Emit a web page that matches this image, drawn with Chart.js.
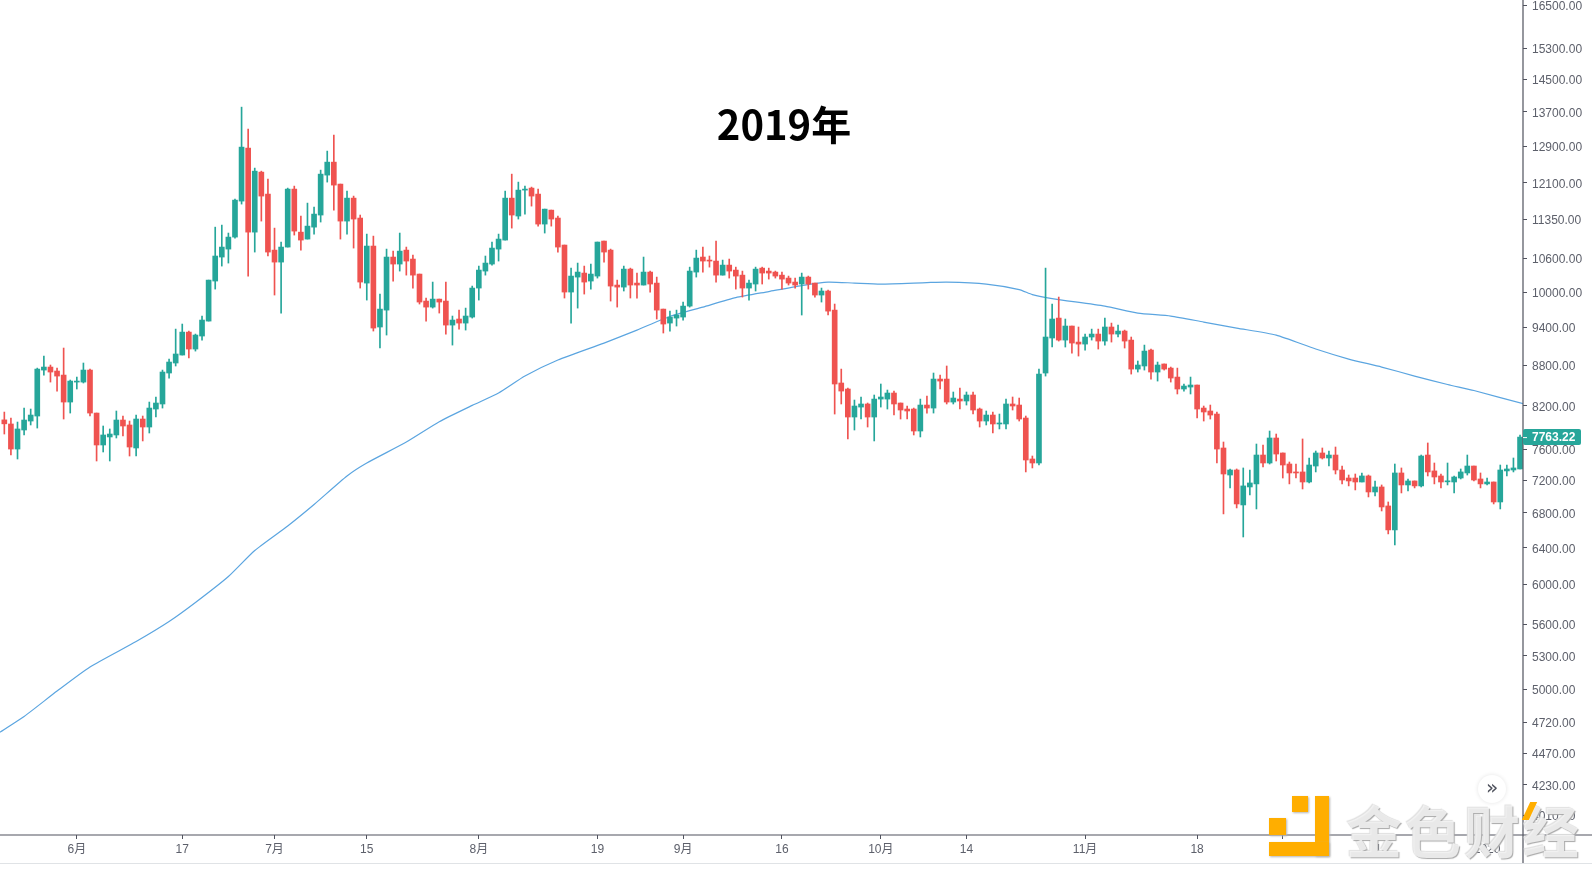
<!DOCTYPE html>
<html>
<head>
<meta charset="utf-8">
<title>2019年</title>
<script src="https://cdn.jsdelivr.net/npm/chart.js@4/dist/chart.umd.min.js"></script>
<style>
html, body { margin: 0; padding: 0; background: #fff; overflow: hidden; }
#wrap { position: relative; width: 1592px; height: 871px; }
#chart { position: absolute; left: 0; top: 0; }
#footline { position: absolute; left: 0; top: 863px; width: 1592px; height: 1px; background: #e0e3e6; }
#heading { position: absolute; left: 584px; top: 94px; width: 400px; text-align: center; font: bold 40px/58px "Noto Sans CJK SC", sans-serif; color: #000; }
#goto { position: absolute; left: 1478px; top: 775px; width: 28px; height: 28px; border-radius: 50%; background: #fff; box-shadow: 0 0 4px #e4e4e4; text-align: center; font: 20px/24px "DejaVu Sans", sans-serif; color: #50535e; }
.logo { position: absolute; background: #ffae00; box-shadow: 1px 1px 2px #b5b5b5; }
#brand { position: absolute; left: 1346px; top: 794px; font: bold 56px/70px "Noto Sans CJK SC", sans-serif; letter-spacing: 3px; color: rgba(244,244,244,0.85); text-shadow: 1px 1px 1px #a8a8a8, -1px -1px 1px #e0e0e0; white-space: nowrap; }
#slash { position: absolute; left: 1526px; top: 802px; width: 7px; height: 18px; background: #ffae00; transform: skewX(-25deg); }
</style>
</head>
<body>
<div id="wrap">
  <canvas id="chart" width="1592" height="863"></canvas>
  <div id="footline"></div>
  <div id="heading">2019年</div>
  <div id="goto">»</div>
  <div class="logo" style="left:1292px;top:796px;width:16px;height:16px"></div>
  <div class="logo" style="left:1269px;top:818px;width:17px;height:17px"></div>
  <div class="logo" style="left:1315px;top:796px;width:14px;height:60px"></div>
  <div class="logo" style="left:1269px;top:842px;width:60px;height:14px"></div>
  <div id="brand">金色财经</div>
  <div id="slash"></div>
</div>
<script>
// daily candles, 21 May 2019 to 6 Jan 2020
const opens = [
  8000,7943,7603,7860,7984,8054,8727,8773,8712,8651,
  8253,8546,8546,8727,8096,7657,7765,7792,7998,7929,
  7617,8012,7901,8153,8225,8682,8835,8959,9325,9053,
  9261,9506,10194,10630,10779,11007,11721,12857,11103,12329,
  11865,10760,10537,10817,11969,11103,10969,11200,11439,12265,
  12546,12074,11319,11782,11379,10158,10836,9408,9690,10630,
  10501,10760,10593,10319,9844,9741,9878,9844,9440,9540,
  9473,9573,10070,10373,10501,10779,10950,11782,11419,11948,
  11990,11865,11260,11538,11379,10855,10000,10265,10337,10194,
  10283,10931,10760,10123,10087,10409,10158,10123,10355,10158,
  9707,9473,9556,9573,9758,10355,10630,10574,10556,10300,
  10482,10391,10300,10070,10141,10427,10373,10355,10300,10247,
  10176,10141,10265,10158,9948,10018,9690,8532,8443,8040,
  8181,8225,8040,8296,8296,8384,8239,8153,8153,7846,
  8210,8167,8591,8591,8253,8296,8268,8355,8153,7984,
  8068,7943,7943,8225,8210,8026,7472,7420,8682,9229,
  9556,9196,9424,9164,9132,9245,9293,9180,9408,9293,
  9342,9196,8742,8789,9037,8697,8820,8757,8621,8443,
  8472,8502,8167,8125,8082,7617,7266,7330,6896,7116,
  7154,7524,7420,7751,7551,7407,7305,7305,7178,7381,
  7551,7485,7524,7330,7228,7228,7178,7254,7054,7116,
  6884,6602,7292,7141,7191,7129,7524,7318,7254,7180,
  7178,7228,7292,7381,7216,7154,7178,6932,7318,7330,
  7343
];
const highs = [
  8110,8026,7970,8167,8153,8757,8943,8804,8757,9069,
  8576,8621,8835,8742,8096,7915,7874,8125,8054,7984,
  8068,8054,8253,8326,8727,8896,9374,9457,9342,9293,
  9590,10211,11200,11240,11085,11761,13810,13290,12416,12350,
  12179,11181,10912,11990,12032,11419,11680,11599,12372,12790,
  13151,12074,11927,11824,11439,11065,11026,9965,10779,10741,
  11085,10817,10667,10319,9896,10176,9878,10176,9590,9690,
  9724,10105,10464,10649,10912,11065,11927,12286,12116,12032,
  12011,11969,11558,11538,11419,10855,10427,10519,10464,10501,
  10912,10931,10779,10211,10464,10427,10337,10630,10373,10265,
  9707,9673,9690,9827,10445,10760,10817,10649,10931,10574,
  10593,10445,10373,10211,10445,10445,10427,10373,10355,10283,
  10247,10337,10283,10158,10070,10035,9793,8742,8458,8282,
  8326,8239,8355,8517,8428,8413,8239,8196,8167,8296,
  8340,8682,8651,8789,8399,8458,8399,8399,8167,8125,
  8111,8082,8296,8326,8311,8054,7511,8742,10427,9793,
  9913,9540,9424,9408,9293,9374,9374,9556,9473,9440,
  9358,9245,8866,9116,9053,8850,8820,8773,8757,8517,
  8621,8502,8196,8210,8111,7697,7343,7343,7356,7330,
  7670,7657,7846,7805,7551,7433,7407,7738,7485,7577,
  7617,7577,7630,7381,7266,7279,7292,7266,7191,7141,
  6932,7407,7356,7216,7191,7524,7684,7420,7279,7420,
  7254,7343,7524,7381,7292,7228,7178,7394,7394,7485,
  7792
];
const lows = [
  7805,7524,7472,7792,7929,7887,8651,8546,8413,8012,
  8096,8443,8532,8054,7446,7564,7446,7751,7778,7511,
  7511,7711,7819,8040,8167,8606,8789,8959,8912,9021,
  9196,9506,10052,10464,10519,10988,11660,10283,10723,11319,
  10649,9948,9640,10817,11046,10760,10969,11065,11300,12116,
  11538,10969,11065,10798,10070,9861,9342,9069,9277,10193,
  10373,10300,10070,9793,9506,9724,9640,9293,9116,9374,
  9358,9556,9861,10300,10482,10556,10950,11181,11359,11458,
  11619,11220,11085,11220,10723,9896,9473,9724,9965,10052,
  10247,10537,9844,9741,10018,9896,9896,10123,10000,9540,
  9310,9342,9424,9523,9741,10265,10355,10445,10176,10300,
  10247,10052,9913,9861,10018,10141,10229,10247,10052,10123,
  10070,9607,10052,9913,9827,9607,8082,8225,7738,7860,
  8012,7901,7711,8181,8153,8068,8012,8012,7792,7765,
  8096,8096,8443,8225,8225,8153,8210,8082,7901,7929,
  7819,7874,7874,8139,7984,7305,7356,7394,8636,9085,
  9180,9085,8990,8943,9037,9196,9053,9116,9164,9245,
  9069,8666,8697,8727,8591,8561,8727,8546,8370,8413,
  8370,8026,7984,8012,7420,6789,7104,6860,6521,7017,
  6848,7369,7407,7446,7228,7154,7228,7091,7166,7305,
  7472,7381,7279,7154,7129,7079,7178,6993,7005,6824,
  6556,6431,7042,7067,7104,7116,7254,7154,7104,7141,
  7042,7216,7266,7191,7104,7141,6908,6848,7254,7305,
  7343
];
const closes = [
  7945,7603,7874,7998,8068,8742,8773,8697,8636,8253,
  8561,8561,8727,8096,7657,7792,7805,7998,7915,7630,
  8012,7901,8167,8239,8697,8850,8975,9325,9053,9277,
  9523,10211,10649,10817,11007,11741,12879,11103,12350,11824,
  10723,10537,10817,11969,11123,10950,11220,11458,12286,12546,
  12053,11319,11782,11359,10176,10836,9391,9707,10630,10501,
  10741,10556,10300,9827,9741,9878,9827,9440,9523,9473,
  9590,10070,10391,10519,10798,10969,11782,11439,11948,11969,
  11824,11260,11558,11359,10817,10000,10283,10355,10176,10319,
  10912,10723,10105,10087,10409,10123,10123,10355,10141,9690,
  9457,9573,9607,9758,10373,10611,10556,10556,10300,10482,
  10373,10283,10070,10158,10409,10337,10337,10283,10229,10158,
  10123,10265,10141,9948,10018,9673,8517,8413,8040,8196,
  8225,8040,8296,8326,8384,8225,8139,8125,7846,8210,
  8167,8591,8561,8253,8311,8268,8355,8139,7984,8068,
  7943,7957,8225,8196,8012,7459,7420,8666,9245,9540,
  9196,9424,9148,9132,9245,9293,9180,9408,9293,9342,
  9180,8742,8804,9021,8697,8804,8742,8606,8443,8487,
  8502,8153,8111,8068,7603,7279,7330,6908,7129,7166,
  7524,7420,7751,7537,7394,7292,7292,7178,7394,7551,
  7485,7524,7330,7203,7191,7178,7254,7054,7116,6872,
  6602,7292,7141,7191,7129,7511,7305,7241,7178,7191,
  7241,7305,7381,7203,7154,7178,6932,7330,7343,7356,
  7763.22
];

// blue moving average, read at these candle positions
const maIndex = [
  -1,3,8,13,20,25,29,34,38,43,47,52,55,61,66,71,75,79,84,91,96,101,106,111,116,121,
  125,129,133,140,143,149,154,156,159,167,172,177,182,187,193,199,204,209,214,219,223,231
];
const maValues = [
  4627,4767,4983,5197,5433,5626,5816,6086,6369,6648,6902,7254,7420,7697,7975,8205,8384,8636,8881,9148,9358,9582,9741,9904,10009,10114,
  10176,10158,10141,10167,10176,10141,10044,9956,9887,9758,9640,9590,9490,9391,9276,9053,8896,8773,8636,8510,8421,8215
];

const priceTicks = [16500,15300,14500,13700,12900,12100,11350,10600,10000,9400,8800,8200,7600,7200,6800,6400,6000,5600,5300,5000,4720,4470,4230,4010];
const dateTickIndex = [11,27,41,55,72,90,103,118,133,146,164,181,194,209,225];
const dateTickLabels = ['6月','17','7月','15','8月','19','9月','16','10月','14','11月','18','12月','16','2020'];

const upColor = '#26a69a';
const downColor = '#ef5350';
const axisColor = '#50535e';
const textColor = '#5d606b';

function candleColor(ctx) {
    return closes[ctx.dataIndex] >= opens[ctx.dataIndex] ? upColor : downColor;
}

// axis lines run past the plot area, plus the last price badge
const chromePlugin = {
    id: 'chrome',
    afterDraw(chart) {
        const c = chart.ctx;
        const area = chart.chartArea;
        c.save();
        c.strokeStyle = axisColor;
        c.lineWidth = 1.2;
        c.beginPath();
        c.moveTo(0, area.bottom);
        c.lineTo(chart.width, area.bottom);
        c.moveTo(area.right, 0);
        c.lineTo(area.right, chart.height);
        c.stroke();

        const last = closes[closes.length - 1];
        const y = chart.scales.y.getPixelForValue(last);
        c.fillStyle = upColor;
        c.beginPath();
        c.roundRect(area.right, y - 8, 58, 16, 2);
        c.fill();
        c.fillStyle = '#fff';
        c.fillRect(area.right, y, 4, 1);
        c.font = 'bold 12px "Liberation Sans"';
        c.textBaseline = 'middle';
        c.fillText(last.toFixed(2), area.right + 9, y + 0.5);
        c.restore();
    }
};

new Chart(document.getElementById('chart'), {
    data: {
        datasets: [{
            type: 'bar',
            data: opens.map((o, i) => ({ x: i, y: [lows[i], highs[i]] })),
            backgroundColor: candleColor,
            barThickness: 1,
            grouped: false,
            order: 1
        }, {
            type: 'bar',
            data: opens.map((o, i) => ({ x: i, y: [o, closes[i]] })),
            backgroundColor: candleColor,
            barThickness: 5,
            minBarLength: 1,
            grouped: false,
            order: 1
        }, {
            type: 'line',
            data: maIndex.map((x, i) => ({ x: x, y: maValues[i] })),
            borderColor: '#5ba5e0',
            borderWidth: 1.2,
            pointRadius: 0,
            tension: 0.2,
            order: 2
        }]
    },
    options: {
        responsive: false,
        devicePixelRatio: 1,
        animation: false,
        layout: { padding: 0, autoPadding: false },
        plugins: { legend: { display: false }, tooltip: { enabled: false } },
        scales: {
            x: {
                type: 'linear',
                min: -0.657,
                max: 230.45,
                offset: false,
                afterBuildTicks: s => { s.ticks = dateTickIndex.map(v => ({ value: v })); },
                afterFit: s => { s.height = 28; },
                border: { display: false },
                grid: { offset: false, drawOnChartArea: false, tickLength: 4, tickColor: axisColor },
                ticks: {
                    autoSkip: false,
                    maxRotation: 0,
                    padding: 3,
                    color: textColor,
                    font: { family: '"Liberation Sans","Noto Sans CJK SC"', size: 12 },
                    callback: v => dateTickLabels[dateTickIndex.indexOf(v)]
                }
            },
            y: {
                type: 'logarithmic',
                position: 'right',
                min: 3876,
                max: 16650,
                afterBuildTicks: s => { s.ticks = priceTicks.map(v => ({ value: v })); },
                afterFit: s => { s.width = 69; s.paddingTop = 0; s.paddingBottom = 0; },
                border: { display: false },
                grid: { drawOnChartArea: false, tickLength: 4, tickColor: axisColor },
                ticks: {
                    autoSkip: false,
                    padding: 5,
                    labelOffset: 1.5,
                    color: textColor,
                    font: { family: '"Liberation Sans"', size: 12 },
                    callback: v => Number(v).toFixed(2)
                }
            }
        }
    },
    plugins: [chromePlugin]
});
</script>
</body>
</html>
